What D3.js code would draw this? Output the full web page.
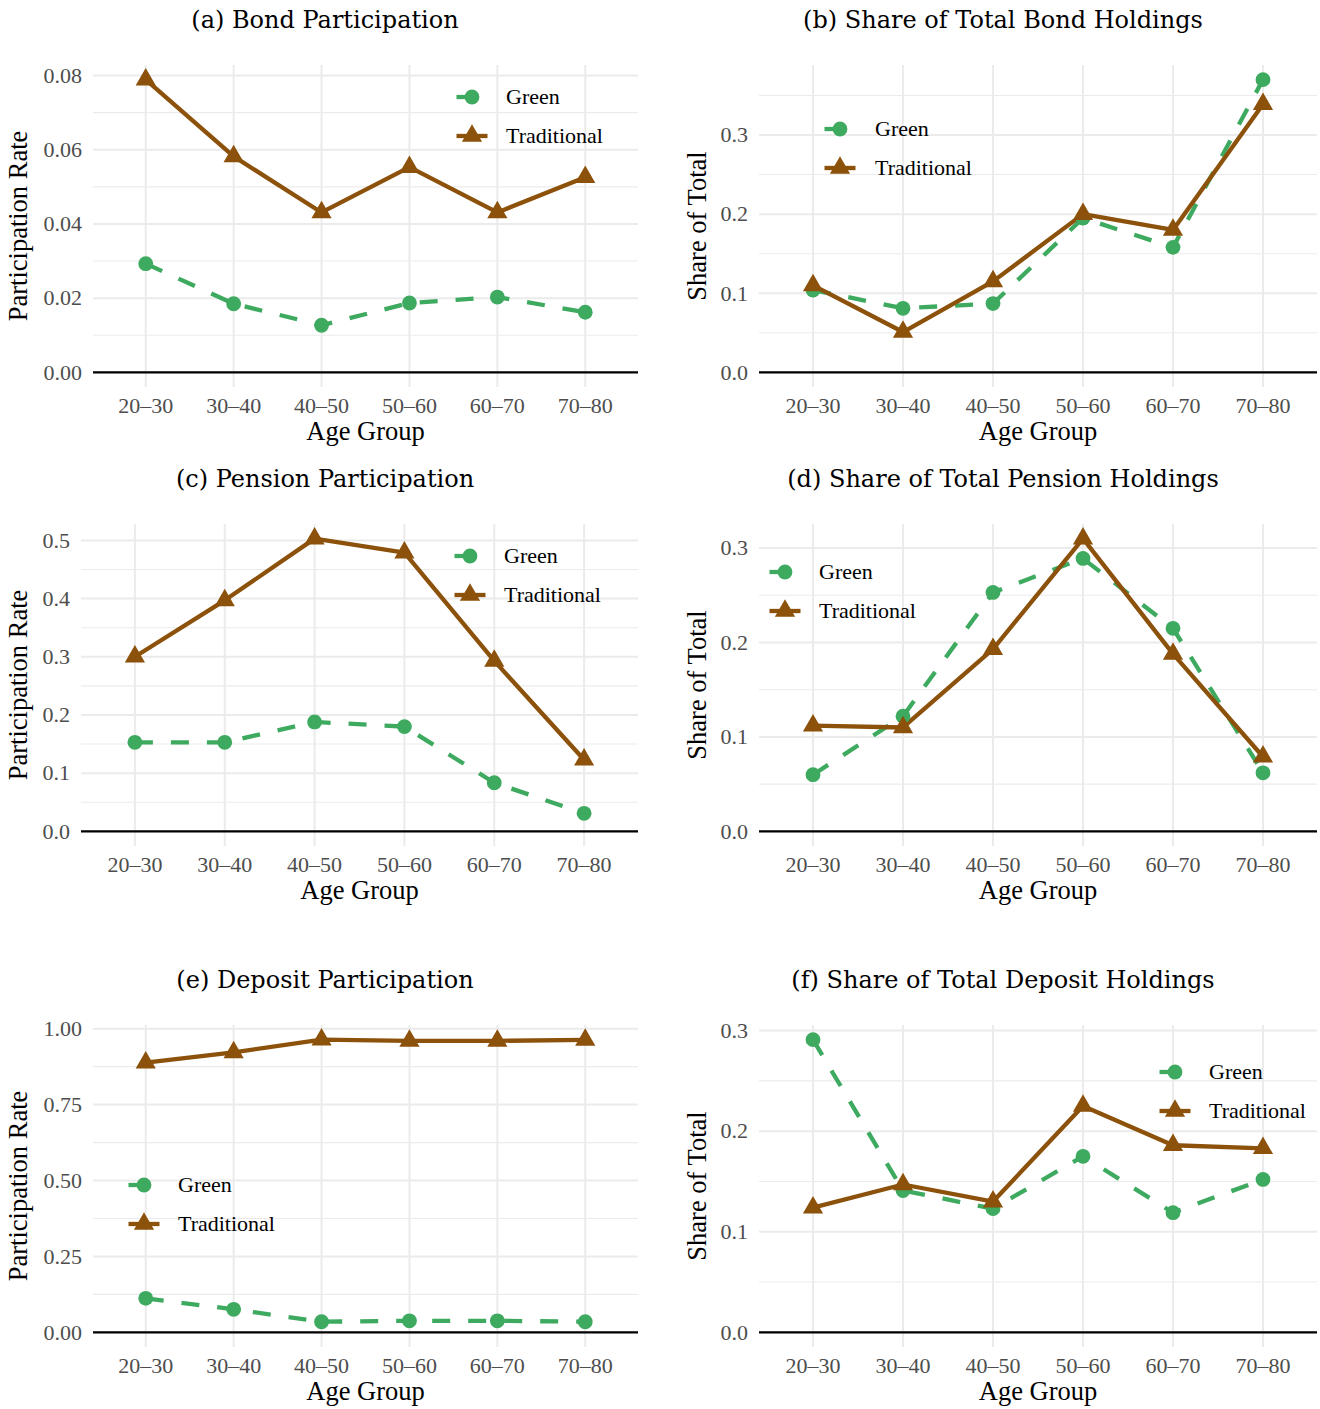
<!DOCTYPE html>
<html><head><meta charset="utf-8">
<script src="https://cdn.jsdelivr.net/npm/d3@7"></script>
<style>body{margin:0;background:#fff}</style>
</head><body><svg id="c" width="1320" height="1409"></svg>
<script>
// ---- data ----
const ageGroups = ["20–30","30–40","40–50","50–60","60–70","70–80"];
const seriesNames = ["Green","Traditional"];

const bondPartGreen = [0.0293, 0.0185, 0.0127, 0.0187, 0.0203, 0.0162];
const bondPartTrad  = [0.0789, 0.0582, 0.0431, 0.0553, 0.0431, 0.0526];
const bondShareGreen = [0.104, 0.081, 0.087, 0.195, 0.158, 0.370];
const bondShareTrad  = [0.110, 0.051, 0.115, 0.200, 0.180, 0.339];
const pensionPartGreen = [0.153, 0.153, 0.188, 0.180, 0.0835, 0.031];
const pensionPartTrad  = [0.300, 0.397, 0.503, 0.479, 0.293, 0.123];
const pensionShareGreen = [0.060, 0.122, 0.253, 0.289, 0.215, 0.062];
const pensionShareTrad  = [0.112, 0.110, 0.193, 0.310, 0.188, 0.079];
const depositPartGreen = [0.112, 0.076, 0.035, 0.038, 0.038, 0.035];
const depositPartTrad  = [0.888, 0.922, 0.964, 0.960, 0.960, 0.963];
const depositShareGreen = [0.291, 0.141, 0.123, 0.175, 0.119, 0.152];
const depositShareTrad  = [0.124, 0.147, 0.130, 0.225, 0.186, 0.183];

const ticksBondPart = [0, 0.02, 0.04, 0.06, 0.08];
const ticksBondShare = [0, 0.1, 0.2, 0.3];
const ticksPensionPart = [0, 0.1, 0.2, 0.3, 0.4, 0.5];
const ticksPensionShare = [0, 0.1, 0.2, 0.3];
const ticksDepositPart = [0, 0.25, 0.5, 0.75, 1.0];
const ticksDepositShare = [0, 0.1, 0.2, 0.3];

const titles = ["(a) Bond Participation","(b) Share of Total Bond Holdings",
  "(c) Pension Participation","(d) Share of Total Pension Holdings",
  "(e) Deposit Participation","(f) Share of Total Deposit Holdings"];
const yTitles = ["Participation Rate","Share of Total"];
const xTitle = "Age Group";

// ---- layout ----
const colors = {Green:"#3daa5f", Traditional:"#8c510a"};
const rows = [{top:65,bottom:387,off:0},{top:524,bottom:846,off:459},{top:1025,bottom:1347,off:960}];
const cols = [{right:638,titleX:325,yTitleX:27},{left:759,right:1317,titleX:1003,yTitleX:706}];

const panels = [
  {t:0,row:0,col:0,left:93, g:bondPartGreen,tr:bondPartTrad,ticks:ticksBondPart,fmt:".2f",yl:0,leg:[472,97,506]},
  {t:1,row:0,col:1,left:759,g:bondShareGreen,tr:bondShareTrad,ticks:ticksBondShare,fmt:".1f",yl:1,leg:[840,129,875]},
  {t:2,row:1,col:0,left:81, g:pensionPartGreen,tr:pensionPartTrad,ticks:ticksPensionPart,fmt:".1f",yl:0,leg:[470,556,504]},
  {t:3,row:1,col:1,left:759,g:pensionShareGreen,tr:pensionShareTrad,ticks:ticksPensionShare,fmt:".1f",yl:1,leg:[785,572,819]},
  {t:4,row:2,col:0,left:93, g:depositPartGreen,tr:depositPartTrad,ticks:ticksDepositPart,fmt:".2f",yl:0,leg:[144,1185,178]},
  {t:5,row:2,col:1,left:759,g:depositShareGreen,tr:depositShareTrad,ticks:ticksDepositShare,fmt:".1f",yl:1,leg:[1175,1072,1209]}
];

const svg = d3.select("#c");
const S = 7.5;
const triPath = `M0,${-1.555*S}L${1.347*S},${0.778*S}L${-1.347*S},${0.778*S}Z`;
const serif = "'Liberation Serif','Times New Roman',serif";
const LW = 4.3;

panels.forEach(p => {
  const r = rows[p.row], c = cols[p.col];
  const left = p.left, right = c.right;
  const x = d3.scalePoint().domain(ageGroups).range([left, right]).padding(0.6);
  const all = p.g.concat(p.tr, [0]);
  const lo = d3.min(all), hi = d3.max(all), pad = (hi - lo) * 0.05;
  const y = d3.scaleLinear().domain([lo - pad, hi + pad]).range([r.bottom, r.top]);
  const g = svg.append("g");

  // minor grid
  const step = p.ticks[1] - p.ticks[0];
  const minors = [];
  for (let i = -1; i < p.ticks.length; i++) {
    const v = p.ticks[0] + (i + 0.5) * step;
    if (v >= y.domain()[0] && v <= y.domain()[1]) minors.push(v);
  }
  g.selectAll(".mn").data(minors).enter().append("line")
    .attr("x1", left).attr("x2", right).attr("y1", d => y(d)).attr("y2", d => y(d))
    .attr("stroke", "#ebebeb").attr("stroke-width", 1.1);
  // major grid
  g.selectAll(".mj").data(p.ticks).enter().append("line")
    .attr("x1", left).attr("x2", right).attr("y1", d => y(d)).attr("y2", d => y(d))
    .attr("stroke", "#ebebeb").attr("stroke-width", 2);
  g.selectAll(".vx").data(ageGroups).enter().append("line")
    .attr("x1", d => x(d)).attr("x2", d => x(d)).attr("y1", r.top).attr("y2", r.bottom)
    .attr("stroke", "#ebebeb").attr("stroke-width", 2);
  // zero line
  g.append("line").attr("x1", left).attr("x2", right).attr("y1", y(0)).attr("y2", y(0))
    .attr("stroke", "#000").attr("stroke-width", 2.2);

  // y tick labels
  const f = d3.format(p.fmt);
  g.selectAll(".yt").data(p.ticks).enter().append("text")
    .attr("x", left - 11).attr("y", d => y(d)).attr("dy", "0.33em")
    .attr("text-anchor", "end").attr("font-family", serif).attr("font-size", 22)
    .attr("fill", "#4d4d4d").text(d => f(d));
  // x tick labels
  g.selectAll(".xt").data(ageGroups).enter().append("text")
    .attr("x", d => x(d)).attr("y", r.bottom + 26)
    .attr("text-anchor", "middle").attr("font-family", serif).attr("font-size", 22)
    .attr("fill", "#4d4d4d").text(d => d);
  // axis titles
  g.append("text").attr("x", (left + right) / 2).attr("y", r.bottom + 53)
    .attr("text-anchor", "middle").attr("font-family", serif).attr("font-size", 26.5)
    .attr("fill", "#000").text(xTitle);
  g.append("text").attr("transform", `translate(${c.yTitleX},${(r.top + r.bottom) / 2}) rotate(-90)`)
    .attr("text-anchor", "middle").attr("font-family", serif).attr("font-size", 26.5)
    .attr("fill", "#000").text(yTitles[p.yl]);
  // title
  g.append("text").attr("x", c.titleX).attr("y", r.off + 28)
    .attr("text-anchor", "middle").attr("font-family", "'DejaVu Serif',serif").attr("font-size", 24)
    .attr("fill", "#000").text(titles[p.t]);

  // lines
  const line = d3.line().x((d, i) => x(ageGroups[i])).y(d => y(d));
  g.append("path").attr("d", line(p.g)).attr("fill", "none")
    .attr("stroke", colors.Green).attr("stroke-width", LW).attr("stroke-dasharray", "18,18");
  g.append("path").attr("d", line(p.tr)).attr("fill", "none")
    .attr("stroke", colors.Traditional).attr("stroke-width", LW).attr("stroke-linejoin", "round");
  // points
  g.selectAll(".gp").data(p.g).enter().append("circle")
    .attr("cx", (d, i) => x(ageGroups[i])).attr("cy", d => y(d)).attr("r", 7.4)
    .attr("fill", colors.Green);
  g.selectAll(".tp").data(p.tr).enter().append("path")
    .attr("transform", (d, i) => `translate(${x(ageGroups[i])},${y(d)})`)
    .attr("d", triPath).attr("fill", colors.Traditional);

  // legend
  const [kx, ky, lx] = p.leg;
  seriesNames.forEach((nm, k) => {
    const yy = ky + k * 39;
    const lg = g.append("g");
    lg.append("line").attr("x1", kx - 15.5).attr("x2", kx + 15.5).attr("y1", yy).attr("y2", yy)
      .attr("stroke", colors[nm]).attr("stroke-width", LW)
      .attr("stroke-dasharray", nm === "Green" ? "18,18" : null);
    if (nm === "Green") {
      lg.append("circle").attr("cx", kx).attr("cy", yy).attr("r", 7.4).attr("fill", colors[nm]);
    } else {
      lg.append("path").attr("transform", `translate(${kx},${yy})`).attr("d", triPath).attr("fill", colors[nm]);
    }
    lg.append("text").attr("x", lx).attr("y", yy).attr("dy", "0.33em")
      .attr("font-family", serif).attr("font-size", 22).attr("fill", "#000").text(nm);
  });
});
</script></body></html>
